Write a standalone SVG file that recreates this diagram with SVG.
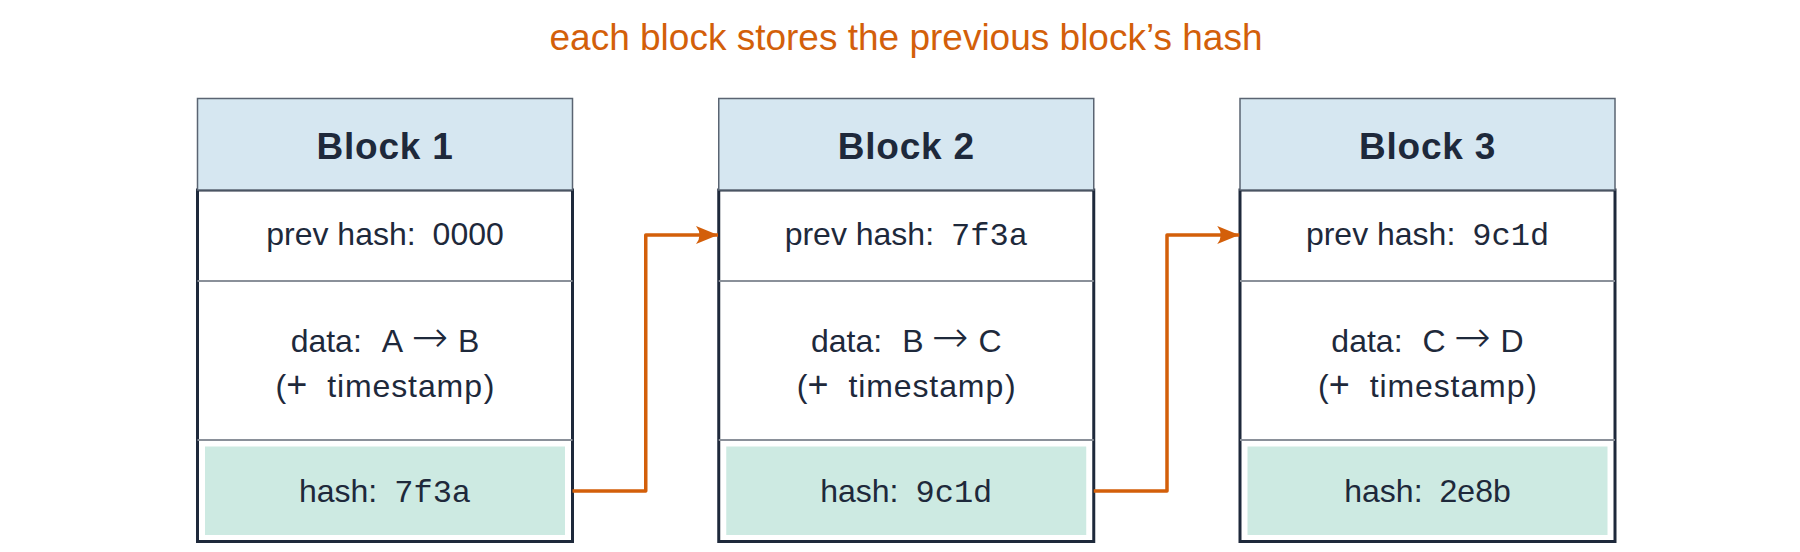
<svg xmlns="http://www.w3.org/2000/svg" width="1800" height="552" viewBox="0 0 1800 552">
<style>
.title{font-family:"Liberation Sans",Arial,sans-serif;font-size:37px;fill:#d35f0a;text-anchor:middle}
.hdr{fill:#d6e7f1;stroke:#5a6472;stroke-width:1.5}
.hdrt{font-family:"Liberation Sans",Arial,sans-serif;font-size:37px;font-weight:bold;letter-spacing:0.8px;fill:#1e293b;text-anchor:middle}
.body{fill:#ffffff;stroke:#1e293b;stroke-width:3}
.sep{stroke:#8a9099;stroke-width:2}
.hash{fill:#cdeae2}
.t{font-family:"Liberation Sans",Arial,sans-serif;font-size:32px;fill:#1e293b;text-anchor:middle}
.m{font-family:"Liberation Mono","Courier New",monospace}
.ar{font-family:"DejaVu Sans",sans-serif;font-size:44px;font-weight:200}
.pl{font-size:36px}
.ts{letter-spacing:0.9px}
.conn{fill:none;stroke:#d35f0a;stroke-width:3.5;stroke-linejoin:round}
</style>
<defs>
<marker id="ah" markerUnits="userSpaceOnUse" markerWidth="26" markerHeight="22" viewBox="-24 -11 26 22" refX="0" refY="0" orient="auto">
<path d="M0,0 L-22,-9 Q-15,0 -22,9 Z" fill="#d35f0a"/>
</marker>
</defs>
<text class="title" x="906" y="50">each block stores the previous block’s hash</text>
<g id="block1">
<rect class="body" x="197.5" y="190" width="375" height="351.5"/>
<rect class="hdr" x="197.5" y="98.5" width="375" height="91.5"/>
<line class="sep" x1="197.5" y1="281" x2="572.5" y2="281"/>
<line class="sep" x1="197.5" y1="440" x2="572.5" y2="440"/>
<rect class="hash" x="205" y="446.5" width="360" height="88.5"/>
<text class="hdrt" x="385" y="159">Block 1</text>
<text class="t" x="385" y="245">prev hash:<tspan dx="17">0000</tspan></text>
<text class="t" x="385" y="351.5">data:<tspan dx="20">A</tspan><tspan class="ar" dx="8">→</tspan><tspan dx="10">B</tspan></text>
<text class="t" x="385" y="396.5">(<tspan class="pl">+</tspan><tspan class="ts" dx="20">timestamp</tspan><tspan dx="1">)</tspan></text>
<text class="t" x="385" y="502">hash:<tspan class="m" dx="17">7f3a</tspan></text>
</g>
<g id="block2">
<rect class="body" x="718.75" y="190" width="375" height="351.5"/>
<rect class="hdr" x="718.75" y="98.5" width="375" height="91.5"/>
<line class="sep" x1="718.75" y1="281" x2="1093.75" y2="281"/>
<line class="sep" x1="718.75" y1="440" x2="1093.75" y2="440"/>
<rect class="hash" x="726.25" y="446.5" width="360" height="88.5"/>
<text class="hdrt" x="906.25" y="159">Block 2</text>
<text class="t" x="906.25" y="245">prev hash:<tspan class="m" dx="17">7f3a</tspan></text>
<text class="t" x="906.25" y="351.5">data:<tspan dx="20">B</tspan><tspan class="ar" dx="8">→</tspan><tspan dx="10">C</tspan></text>
<text class="t" x="906.25" y="396.5">(<tspan class="pl">+</tspan><tspan class="ts" dx="20">timestamp</tspan><tspan dx="1">)</tspan></text>
<text class="t" x="906.25" y="502">hash:<tspan class="m" dx="17">9c1d</tspan></text>
</g>
<g id="block3">
<rect class="body" x="1240" y="190" width="375" height="351.5"/>
<rect class="hdr" x="1240" y="98.5" width="375" height="91.5"/>
<line class="sep" x1="1240" y1="281" x2="1615" y2="281"/>
<line class="sep" x1="1240" y1="440" x2="1615" y2="440"/>
<rect class="hash" x="1247.5" y="446.5" width="360" height="88.5"/>
<text class="hdrt" x="1427.5" y="159">Block 3</text>
<text class="t" x="1427.5" y="245">prev hash:<tspan class="m" dx="17">9c1d</tspan></text>
<text class="t" x="1427.5" y="351.5">data:<tspan dx="20">C</tspan><tspan class="ar" dx="8">→</tspan><tspan dx="10">D</tspan></text>
<text class="t" x="1427.5" y="396.5">(<tspan class="pl">+</tspan><tspan class="ts" dx="20">timestamp</tspan><tspan dx="1">)</tspan></text>
<text class="t" x="1427.5" y="502">hash:<tspan dx="17">2e8b</tspan></text>
</g>
<g id="connectors">
<path class="conn" d="M572.5,491 H645.75 V235 H718" marker-end="url(#ah)"/>
<path class="conn" d="M1093.75,491 H1167 V235 H1239.25" marker-end="url(#ah)"/>
</g>
</svg>
